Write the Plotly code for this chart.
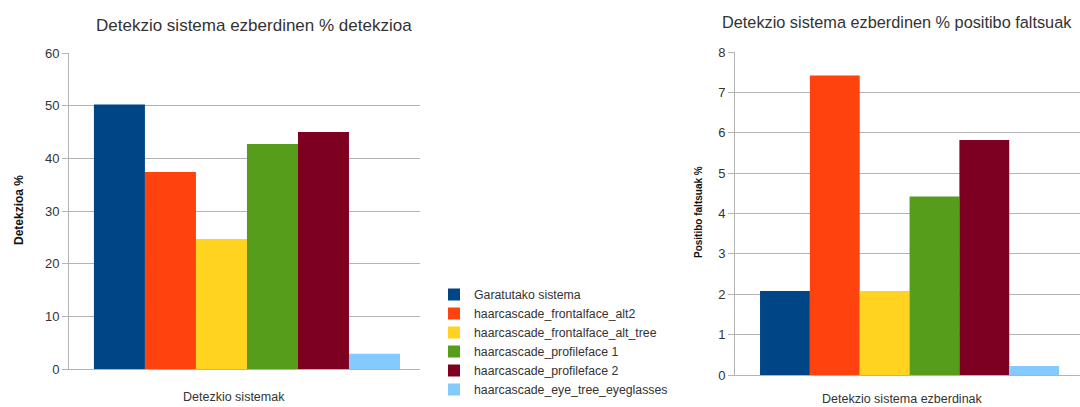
import plotly.graph_objects as go

# Detection systems compared in both charts
systems = [
    "Garatutako sistema",
    "haarcascade_frontalface_alt2",
    "haarcascade_frontalface_alt_tree",
    "haarcascade_profileface 1",
    "haarcascade_profileface 2",
    "haarcascade_eye_tree_eyeglasses",
]
colors = ["#004586", "#ff420e", "#ffd320", "#579d1c", "#7e0021", "#83caff"]

# Detection rate (%) per system
detection_pct = [50.2, 37.4, 24.7, 42.7, 45.0, 2.9]
# False positive rate (%) per system
false_pos_pct = [2.08, 7.42, 2.08, 4.42, 5.82, 0.22]

category = [""]

FONT = "Liberation Sans, Arial, sans-serif"
TXT = "#333333"
GRID = "#b3b3b3"

fig = go.Figure()

for name, col, det, fp in zip(systems, colors, detection_pct, false_pos_pct):
    fig.add_trace(go.Bar(x=category, y=[det], name=name, marker_color=col,
                         marker_line_width=0, legendgroup=name,
                         xaxis="x", yaxis="y"))
    fig.add_trace(go.Bar(x=category, y=[fp], name=name, marker_color=col,
                         marker_line_width=0, legendgroup=name, showlegend=False,
                         xaxis="x2", yaxis="y2"))

W, H = 1080, 407


def px_x(p):
    return p / W


def px_y(p):
    return 1 - p / H


common_y = dict(showgrid=True, gridcolor=GRID, gridwidth=1, showline=True,
                linecolor=GRID, linewidth=1, ticks="outside", ticklen=6,
                tickcolor=GRID, zeroline=False, automargin=False,
                tickfont=dict(family=FONT, size=13, color=TXT))
common_x = dict(showticklabels=False, showgrid=False, showline=True,
                linecolor=GRID, linewidth=1, ticks="", zeroline=False,
                type="category", automargin=False)


def label(text, x, y, size, color=TXT, angle=0):
    return dict(text=text, x=px_x(x), y=px_y(y), xref="paper", yref="paper",
                xanchor="center", yanchor="middle", showarrow=False,
                textangle=angle, font=dict(family=FONT, size=size, color=color))


fig.update_layout(
    width=W, height=H,
    margin=dict(l=0, r=0, t=0, b=0, autoexpand=False),
    paper_bgcolor="white", plot_bgcolor="white",
    barmode="group", bargap=0.128, bargroupgap=0,
    font=dict(family=FONT, color=TXT),
    xaxis=dict(domain=[px_x(69), px_x(420)], range=[-0.507, 0.493],
               anchor="y", **common_x),
    yaxis=dict(domain=[px_y(369), px_y(53)], range=[0, 60], dtick=10,
               anchor="x", **common_y),
    xaxis2=dict(domain=[px_x(735), 1.0], range=[-0.509, 0.497],
                anchor="y2", **common_x),
    yaxis2=dict(domain=[px_y(375), px_y(52)], range=[0, 8], dtick=1,
                anchor="x2", **common_y),
    legend=dict(xref="container", yref="container",
                x=px_x(434), y=px_y(280), xanchor="left", yanchor="top",
                font=dict(family=FONT, size=12.3, color=TXT),
                bgcolor="rgba(0,0,0,0)", itemwidth=30, tracegroupgap=0),
    annotations=[
        label("Detekzio sistema ezberdinen % detekzioa", 254, 25, 17),
        label("Detekzio sistema ezberdinen % positibo faltsuak", 897, 22, 16.3),
        label("<b>Detekzioa %</b>", 19, 210, 12, "#111111", -90),
        label("<b>Positibo faltsuak %</b>", 698, 212, 10, "#111111", -90),
        label("Detezkio sistemak", 234, 397, 12.5),
        label("Detekzio sistema ezberdinak", 902, 399, 12.5),
    ],
)

fig.write_html("out.html")
